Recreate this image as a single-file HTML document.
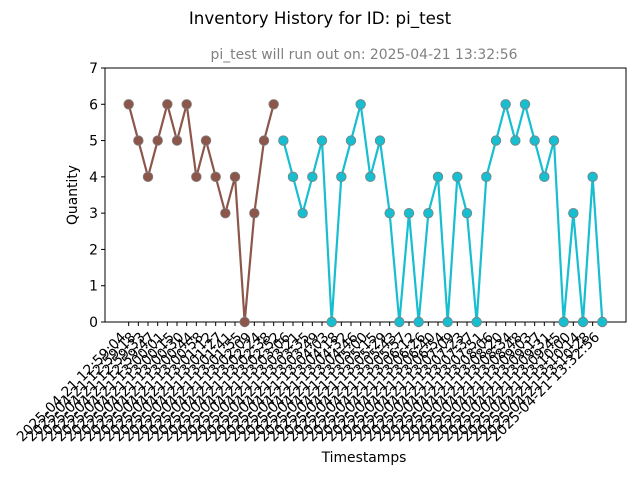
<!DOCTYPE html>
<html><head><meta charset="utf-8"><style>
body{margin:0;background:#fff;}
svg{display:block;font-family:"DejaVu Sans","Liberation Sans",sans-serif;}
</style></head><body>
<svg id="chart" width="640" height="480" viewBox="0 0 640 480">
<text x="320" y="24" text-anchor="middle" font-size="16.7">Inventory History for ID: pi_test</text>
<text x="364" y="59" text-anchor="middle" font-size="13.9" fill="#808080">pi_test will run out on: 2025-04-21 13:32:56</text>
<rect x="105" y="68" width="521" height="254" fill="none" stroke="#000" stroke-width="1"/>
<g id="yaxis"></g>
<g id="xaxis"></g>
<g id="series"></g>
<text transform="translate(77,195) rotate(-90)" text-anchor="middle" font-size="13.9">Quantity</text>
<text x="364" y="462" text-anchor="middle" font-size="13.9">Timestamps</text>
</svg>
<script>
const brownValues=[6,5,4,5,6,5,6,4,5,4,3,4,0,3,5,6];
const cyanValues=[5,4,3,4,5,0,4,5,6,4,5,3,0,3,0,3,4,0,4,3,0,4,5,6,5,6,5,4,5,0,3,0,4,0];
const yTicks=[0,1,2,3,4,5,6,7];
const timeLabels=["2025-04-21 12:59:04","2025-04-21 12:59:18","2025-04-21 12:59:33","2025-04-21 12:59:47","2025-04-21 13:00:01","2025-04-21 13:00:15","2025-04-21 13:00:30","2025-04-21 13:00:44","2025-04-21 13:00:58","2025-04-21 13:01:12","2025-04-21 13:01:27","2025-04-21 13:01:41","2025-04-21 13:01:55","2025-04-21 13:02:09","2025-04-21 13:02:24","2025-04-21 13:02:38","2025-04-21 13:02:52","2025-04-21 13:03:06","2025-04-21 13:03:21","2025-04-21 13:03:35","2025-04-21 13:03:49","2025-04-21 13:04:03","2025-04-21 13:04:18","2025-04-21 13:04:32","2025-04-21 13:04:46","2025-04-21 13:05:00","2025-04-21 13:05:15","2025-04-21 13:05:29","2025-04-21 13:05:43","2025-04-21 13:05:57","2025-04-21 13:06:12","2025-04-21 13:06:26","2025-04-21 13:06:40","2025-04-21 13:06:54","2025-04-21 13:07:09","2025-04-21 13:07:23","2025-04-21 13:07:37","2025-04-21 13:07:51","2025-04-21 13:08:06","2025-04-21 13:08:20","2025-04-21 13:08:34","2025-04-21 13:08:48","2025-04-21 13:09:03","2025-04-21 13:09:17","2025-04-21 13:09:31","2025-04-21 13:09:45","2025-04-21 13:10:00","2025-04-21 13:10:14","2025-04-21 13:10:28","2025-04-21 13:32:56"];
const NS="http://www.w3.org/2000/svg";
const N=timeLabels.length;
const L=105,R=626,T=68,B=322;
const xmin=-0.05*(N-1),xmax=(N-1)*1.05;
function xs(i){return L+(i-xmin)/(xmax-xmin)*(R-L);}
function ys(v){return B-v/7*(B-T);}
function mk(tag,attrs,parent){const e=document.createElementNS(NS,tag);for(const k in attrs)e.setAttribute(k,attrs[k]);parent.appendChild(e);return e;}
const ya=document.getElementById('yaxis');
yTicks.forEach(t=>{
  const ln=mk('line',{x1:L-4,x2:L,y1:ys(t),y2:ys(t),stroke:'#000'},ya);
  
  
  const tx=mk('text',{x:L-7,y:ys(t)+5,'text-anchor':'end','font-size':'13.9'},ya);
  tx.textContent=t;
  
  
});
const xa=document.getElementById('xaxis');
timeLabels.forEach((lab,i)=>{
  const x=xs(i);
  const ln=mk('line',{x1:x,x2:x,y1:B,y2:B+4,stroke:'#000'},xa);
  
  
  const tx=mk('text',{'text-anchor':'end','font-size':'13.9',transform:`translate(${x-2},${B+16}) rotate(-45)`},xa);
  tx.textContent=lab;
  
  
});
const sg=document.getElementById('series');
function drawSeries(vals,offset,color,name){
  const pts=vals.map((v,i)=>xs(i+offset)+','+ys(v)).join(' ');
  const pl=mk('polyline',{points:pts,fill:'none',stroke:color,'stroke-width':2.2,'stroke-linejoin':'round'},sg);
  
  
  vals.forEach((v,i)=>{
    const c=mk('circle',{cx:xs(i+offset),cy:ys(v),r:4.8,fill:color,stroke:'#7f7f7f','stroke-width':0.8},sg);
    
    
  });
}
drawSeries(brownValues,0,'#8c564b','brown-series');
drawSeries(cyanValues,brownValues.length,'#17becf','cyan-series');
</script>
</body></html>
